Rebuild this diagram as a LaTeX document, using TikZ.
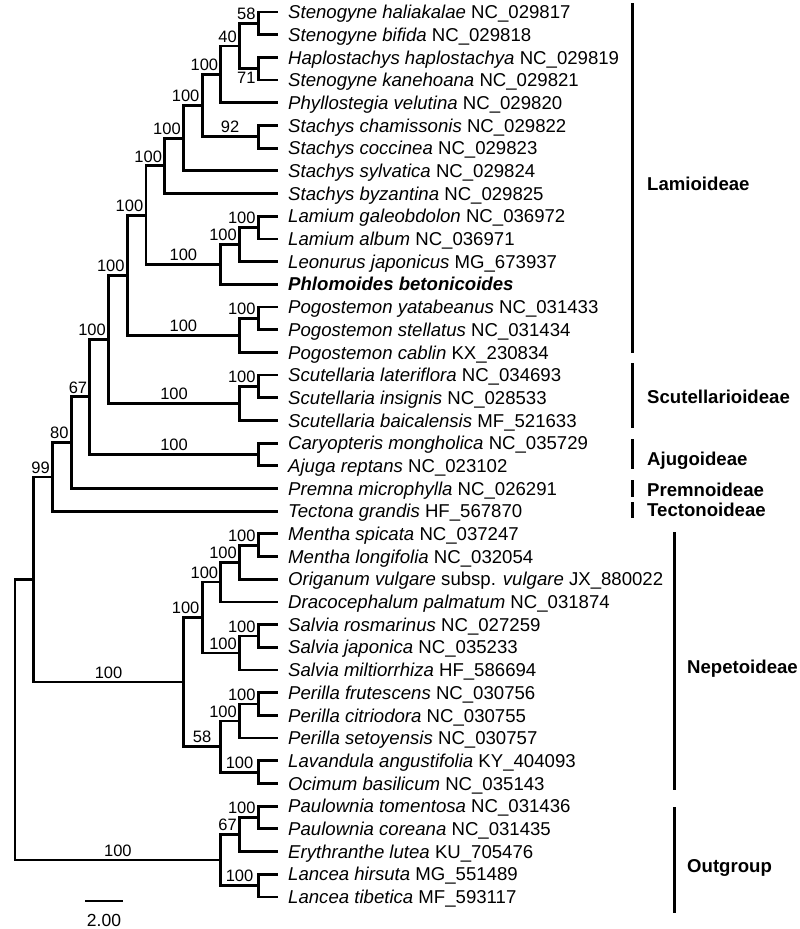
\documentclass[tikz,border=0pt]{standalone}
\usepackage{fontspec}
\setmainfont{Liberation Sans}
\usetikzlibrary{calc}
\tikzset{
  br/.style={line width=2.8pt,line cap=rect},
  bar/.style={line width=3pt},
  leaf/.style={anchor=west,inner sep=0pt,text height=13.3pt,text depth=0pt,font=\fontsize{18.6}{20}\selectfont},
  grp/.style={leaf,font=\fontsize{18.6}{20}\selectfont\bfseries},
  bsc/.style={pos=0.75,above,inner xsep=1pt,inner ysep=3.5pt,font=\fontsize{16.5}{18}\selectfont},
  bsr/.style={anchor=south east,inner xsep=2.5pt,inner ysep=3.5pt,font=\fontsize{16.5}{18}\selectfont},
  bsb/.style={bsr,anchor=north east}
}
% internal node: name, column, two children (y = midpoint of children)
\newcommand\clade[4]{%
  \pgfmathsetmacro\cladex{15+#2*18.71}%
  \coordinate (tmp) at ($(#3)!0.5!(#4)$);
  \coordinate (#1) at (\cladex,0 |- tmp);}

\begin{document}
\begin{tikzpicture}[x=1pt,y=-1pt]
  \useasboundingbox (0,0) rectangle (800,929);

  % leaves
  \foreach \lab [count=\i] in {
    {\textit{Stenogyne haliakalae} NC\_029817},
    {\textit{Stenogyne bifida} NC\_029818},
    {\textit{Haplostachys haplostachya} NC\_029819},
    {\textit{Stenogyne kanehoana} NC\_029821},
    {\textit{Phyllostegia velutina} NC\_029820},
    {\textit{Stachys chamissonis} NC\_029822},
    {\textit{Stachys coccinea} NC\_029823},
    {\textit{Stachys sylvatica} NC\_029824},
    {\textit{Stachys byzantina} NC\_029825},
    {\textit{Lamium galeobdolon} NC\_036972},
    {\textit{Lamium album} NC\_036971},
    {\textit{Leonurus japonicus} MG\_673937},
    {\textbf{\textit{Phlomoides betonicoides}}},
    {\textit{Pogostemon yatabeanus} NC\_031433},
    {\textit{Pogostemon stellatus} NC\_031434},
    {\textit{Pogostemon cablin} KX\_230834},
    {\textit{Scutellaria lateriflora} NC\_034693},
    {\textit{Scutellaria insignis} NC\_028533},
    {\textit{Scutellaria baicalensis} MF\_521633},
    {\textit{Caryopteris mongholica} NC\_035729},
    {\textit{Ajuga reptans} NC\_023102},
    {\textit{Premna microphylla} NC\_026291},
    {\textit{Tectona grandis} HF\_567870},
    {\textit{Mentha spicata} NC\_037247},
    {\textit{Mentha longifolia} NC\_032054},
    {\textit{Origanum vulgare} subsp. \textit{vulgare} JX\_880022},
    {\textit{Dracocephalum palmatum} NC\_031874},
    {\textit{Salvia rosmarinus} NC\_027259},
    {\textit{Salvia japonica} NC\_035233},
    {\textit{Salvia miltiorrhiza} HF\_586694},
    {\textit{Perilla frutescens} NC\_030756},
    {\textit{Perilla citriodora} NC\_030755},
    {\textit{Perilla setoyensis} NC\_030757},
    {\textit{Lavandula angustifolia} KY\_404093},
    {\textit{Ocimum basilicum} NC\_035143},
    {\textit{Paulownia tomentosa} NC\_031436},
    {\textit{Paulownia coreana} NC\_031435},
    {\textit{Erythranthe lutea} KU\_705476},
    {\textit{Lancea hirsuta} MG\_551489},
    {\textit{Lancea tibetica} MF\_593117}}{
    \coordinate (t\i) at (277,{12+(\i-1)*22.69});
    \node[leaf] (l\i) at (288,{12+(\i-1)*22.69}) {\lab};
  }

  % Lamioideae ... Tectonoideae
  \clade{hb}{13}{t1}{t2}
  \clade{hk}{13}{t3}{t4}
  \clade{sten}{12}{hb}{hk}
  \clade{phy}{11}{sten}{t5}
  \clade{sch}{13}{t6}{t7}
  \clade{sta}{10}{phy}{sch}
  \clade{syl}{9}{sta}{t8}
  \clade{byz}{8}{syl}{t9}
  \clade{lam}{13}{t10}{t11}
  \clade{leo}{12}{lam}{t12}
  \clade{phl}{11}{leo}{t13}
  \clade{lamc}{7}{byz}{phl}
  \clade{pog}{13}{t14}{t15}
  \clade{pogc}{12}{pog}{t16}
  \clade{lamio}{6}{lamc}{pogc}
  \clade{scu}{13}{t17}{t18}
  \clade{scuc}{12}{scu}{t19}
  \clade{ls}{5}{lamio}{scuc}
  \clade{aju}{13}{t20}{t21}
  \clade{lsa}{4}{ls}{aju}
  \clade{pre}{3}{lsa}{t22}
  \clade{tec}{2}{pre}{t23}
  % Nepetoideae
  \clade{men}{13}{t24}{t25}
  \clade{ori}{12}{men}{t26}
  \clade{dra}{11}{ori}{t27}
  \clade{sal}{13}{t28}{t29}
  \clade{salc}{12}{sal}{t30}
  \clade{mensal}{10}{dra}{salc}
  \clade{per}{13}{t31}{t32}
  \clade{perc}{12}{per}{t33}
  \clade{lav}{13}{t34}{t35}
  \clade{perlav}{11}{perc}{lav}
  \clade{nep}{9}{mensal}{perlav}
  \clade{lamiac}{1}{tec}{nep}
  % Outgroup
  \clade{pau}{13}{t36}{t37}
  \clade{paue}{12}{pau}{t38}
  \clade{lan}{13}{t39}{t40}
  \clade{outg}{11}{paue}{lan}
  \clade{root}{0}{lamiac}{outg}

  % branches
  \foreach \pa/\ch in {hb/t1,hb/t2,hk/t3,hk/t4,sten/hb,sten/hk,phy/sten,phy/t5,
      sch/t6,sch/t7,sta/phy,sta/sch,syl/sta,syl/t8,byz/syl,byz/t9,
      lam/t10,lam/t11,leo/lam,leo/t12,phl/leo,phl/t13,lamc/byz,lamc/phl,
      pog/t14,pog/t15,pogc/pog,pogc/t16,lamio/lamc,lamio/pogc,
      scu/t17,scu/t18,scuc/scu,scuc/t19,ls/lamio,ls/scuc,aju/t20,aju/t21,
      lsa/ls,lsa/aju,pre/lsa,pre/t22,tec/pre,tec/t23,
      men/t24,men/t25,ori/men,ori/t26,dra/ori,dra/t27,sal/t28,sal/t29,
      salc/sal,salc/t30,mensal/dra,mensal/salc,per/t31,per/t32,perc/per,perc/t33,
      lav/t34,lav/t35,perlav/perc,perlav/lav,nep/mensal,nep/perlav,
      lamiac/tec,lamiac/nep,pau/t36,pau/t37,paue/pau,paue/t38,lan/t39,lan/t40,
      outg/paue,outg/lan,root/lamiac,root/outg}
    \draw[br] (\pa) |- (\ch);

  % support values centred on long branches
  \foreach \pa/\ch/\val in {sta/sch/92,lamc/phl/100,lamio/pogc/100,ls/scuc/100,
      lsa/aju/100,lamiac/nep/100,perlav/lav/100,nep/perlav/58,root/outg/100,outg/lan/100}
    \path (\pa) |- (\ch) node[bsc] (bs-\ch) {\val};
  % support values at the node
  \foreach \ch/\val in {hb/58,sten/40,phy/100,sta/100,syl/100,byz/100,lam/100,leo/100,
      lamc/100,pog/100,lamio/100,scu/100,ls/100,lsa/67,pre/80,tec/99,
      men/100,ori/100,dra/100,mensal/100,sal/100,salc/100,per/100,perc/100,
      pau/100,paue/67}
    \node[bsr] (bs-\ch) at (\ch) {\val};
  \node[bsb] (bs-hk) at (hk) {71};

  % subfamily bars
  \draw[bar] (632,3) -- (632,353);
  \draw[bar] (632,363) -- (632,428);
  \draw[bar] (632,439) -- (632,469);
  \draw[bar] (632,480) -- (632,497);
  \draw[bar] (632,502) -- (632,518);
  \draw[bar] (674,532) -- (674,790);
  \draw[bar] (674,807) -- (674,913);
  \node[grp] (g-lam) at (647,184) {Lamioideae};
  \node[grp] (g-scu) at (647,397) {Scutellarioideae};
  \node[grp] (g-aju) at (647,459) {Ajugoideae};
  \node[grp] (g-pre) at (647,490) {Premnoideae};
  \node[grp] (g-tec) at (647,510) {Tectonoideae};
  \node[grp] (g-nep) at (687,667) {Nepetoideae};
  \node[grp] (g-out) at (687,866) {Outgroup};

  % scale bar
  \coordinate (sb1) at (85,901);
  \coordinate (sb2) at (123,901);
  \draw[line width=2.8pt] (sb1) -- (sb2);
  \node[font=\fontsize{17.5}{19}\selectfont,inner sep=0pt] (sblab) at (104,920) {2.00};
\end{tikzpicture}
\end{document}
